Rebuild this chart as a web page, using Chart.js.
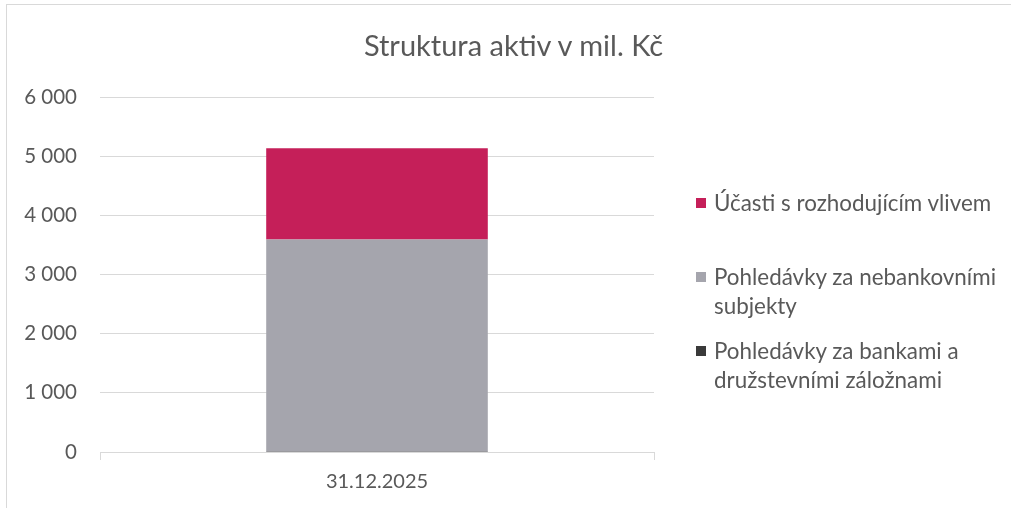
<!DOCTYPE html>
<html>
<head>
<meta charset="utf-8">
<script src="https://cdn.jsdelivr.net/npm/chart.js@4/dist/chart.umd.min.js"></script>
<style>
  html, body { margin: 0; padding: 0; background: #fff; }
  #wrap { position: relative; width: 1011px; height: 508px; overflow: hidden; }
  #frame { position: absolute; left: 6px; top: 4px; width: 1100px; height: 600px; border: 1px solid #d9d9d9; box-sizing: border-box; }
  canvas { position: absolute; left: 0; top: 0; }
  #title { position: absolute; left: 8px; width: 1011px; top: 27px; text-align: center; font-family: Lato, "Noto Sans", sans-serif; font-size: 29px; color: #595959; line-height: 36px; }
  #legend { position: absolute; left: 696px; top: 0; font-family: Lato, "Noto Sans", sans-serif; font-size: 22.4px; color: #595959; line-height: 29px; }
  .item { position: absolute; left: 0; width: 315px; display: flex; }
  .sw { width: 10px; height: 10px; margin-top: 10px; margin-right: 8px; flex: none; }
</style>
</head>
<body>
<div id="wrap">
  <div id="frame"></div>
  <canvas id="c" width="1011" height="508"></canvas>
  <div id="title"></div>
  <div id="legend"></div>
</div>
<script>
const categories = ["31.12.2025"];
const seriesNames = [
  "Pohledávky za bankami a družstevními záložnami",
  "Pohledávky za nebankovními subjekty",
  "Účasti s rozhodujícím vlivem"
];
const bankyValues = [3];
const nebankovniValues = [3590];
const ucastiValues = [1540];
const seriesColors = ["#3a3a3a", "#a5a5ad", "#c51f59"];
const yTicks = [0, 1000, 2000, 3000, 4000, 5000, 6000];
const titleText = "Struktura aktiv v mil. Kč";

const seriesValues = [bankyValues, nebankovniValues, ucastiValues];
const fmt = v => String(v).replace(/\B(?=(\d{3})+(?!\d))/g, " ");
document.getElementById("title").textContent = titleText;

const ctx = document.getElementById("c");
const chart = new Chart(ctx, {
  type: "bar",
  data: {
    labels: categories,
    datasets: seriesNames.map((n, i) => ({
      label: n,
      data: seriesValues[i],
      backgroundColor: seriesColors[i],
      borderWidth: 0,
      categoryPercentage: 0.8,
      barPercentage: 0.5
    }))
  },
  options: {
    responsive: false,
    animation: false,
    layout: { padding: { left: 0, right: 357, top: 97, bottom: 0 } },
    plugins: {
      legend: { display: false },
      tooltip: { enabled: false },
      title: { display: false }
    },
    scales: {
      x: {
        stacked: true,
        grid: { display: true, drawOnChartArea: false, drawTicks: true, tickLength: 8, color: "#d9d9d9", offset: true },
        border: { display: true, color: "#d9d9d9", width: 1 },
        ticks: { color: "#595959", font: { family: "Lato", size: 20 }, padding: 10 },
        afterFit: s => { s.height = 56; }
      },
      y: {
        stacked: true,
        min: 0,
        max: 6000,
        afterBuildTicks: s => { s.ticks = yTicks.map(v => ({ value: v })); },
        grid: { color: "#d9d9d9", drawTicks: false },
        border: { display: false },
        ticks: { color: "#595959", font: { family: "Lato", size: 20.5 }, padding: 23, callback: v => fmt(v) },
        afterFit: s => { s.width = 100; }
      }
    }
  }
});

// HTML legend (reverse order, as in reference)
const legendLayout = [
  { idx: 2, top: 188 },
  { idx: 1, top: 262 },
  { idx: 0, top: 336 }
];
const leg = document.getElementById("legend");
legendLayout.forEach(l => {
  const d = document.createElement("div");
  d.className = "item";
  d.style.top = l.top + "px";
  const sw = document.createElement("div");
  sw.className = "sw";
  sw.style.background = seriesColors[l.idx];
  const t = document.createElement("div");
  t.textContent = seriesNames[l.idx];
  d.appendChild(sw); d.appendChild(t);
  leg.appendChild(d);
});
</script>
</body>
</html>
